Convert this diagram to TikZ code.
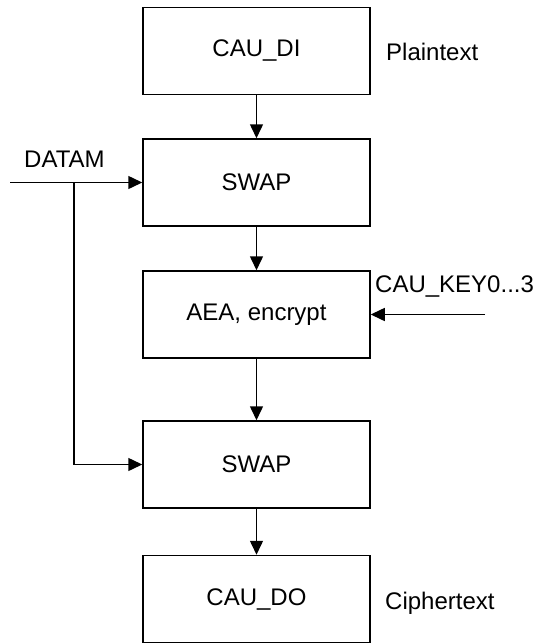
\documentclass[tikz,border=0pt]{standalone}
\usepackage{fontspec}
\setmainfont{Liberation Sans}
\usetikzlibrary{arrows.meta}
\begin{document}
\begin{tikzpicture}[x=1pt,y=-1pt,
  font=\fontsize{24}{28}\selectfont,
  blockbox/.style={draw=black,line width=1.5pt,rectangle,minimum width=227pt,minimum height=87pt,inner sep=0pt,fill=white},
  arr/.style={line width=1.5pt,-{Triangle[length=14pt,width=13pt]}},
  lbl/.style={inner sep=0pt,anchor=base west}]
\useasboundingbox (0,0) rectangle (533,643);
\node[blockbox] (di) at (256.5,51) {CAU\_DI};
\node[blockbox] (swap1) at (256.5,182.5) {SWAP};
\node[blockbox] (aea) at (256.5,314.5) {AEA, encrypt};
\node[blockbox] (swap2) at (256.5,464.5) {SWAP};
\node[blockbox] (do) at (256.5,599) {CAU\_DO};
\node[lbl] (pt) at (386,60) {Plaintext};
\node[lbl] (ct) at (385,609) {Ciphertext};
\node[lbl] (datam) at (24,167) {DATAM};
\node[lbl] (key) at (375,292) {CAU\_KEY0...3};
\coordinate (datamin) at (10,182.5);
\coordinate (branch) at (74,182.5);
\coordinate (keyin) at (485,314.5);
\draw[arr] (di) -- (swap1);
\draw[arr] (swap1) -- (aea);
\draw[arr] (aea) -- (swap2);
\draw[arr] (swap2) -- (do);
\draw[arr] (datamin) -- (swap1.west);
\draw[arr] (branch) |- (swap2.west);
\draw[arr] (keyin) -- (aea.east);
\end{tikzpicture}
\end{document}
